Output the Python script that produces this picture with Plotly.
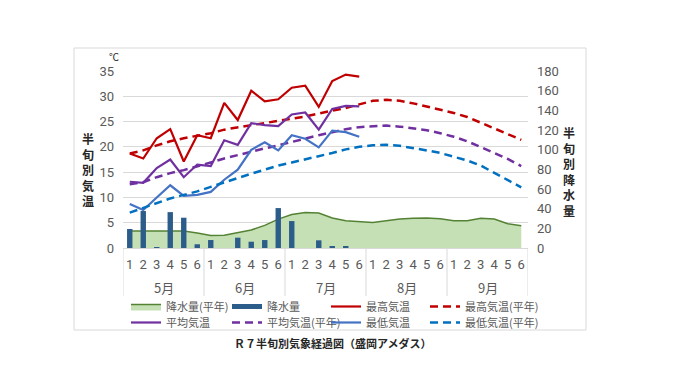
import plotly.graph_objects as go

months = ["5月", "6月", "7月", "8月", "9月"]
halves = ["1", "2", "3", "4", "5", "6"]

# observed (R7), 18 half-month periods (May 1 - Jul 6)
precip = [19.3, 37.6, 0.5, 36.5, 30.8, 3.8, 8.1, 0.0, 10.5, 6.4, 8.1, 40.6, 27.4, 0.0, 7.8, 2.0, 1.5, 0.0]
max_t = [18.7, 17.7, 21.7, 23.5, 17.1, 22.3, 21.7, 28.7, 25.3, 31.1, 29.0, 29.4, 31.7, 32.1, 27.9, 33.0, 34.3, 33.9]
mean_t = [13.1, 12.9, 15.8, 17.5, 14.0, 16.5, 16.2, 21.3, 20.4, 24.7, 24.3, 24.1, 26.4, 26.8, 23.4, 27.5, 28.1, 28.0]
min_t = [8.7, 7.5, 10.0, 12.4, 10.3, 10.5, 11.1, 13.5, 15.5, 19.4, 20.9, 19.3, 22.3, 21.6, 19.9, 23.2, 22.9, 22.0]

# normals (平年), 30 periods
precip_norm = [17.4, 17.4, 17.4, 17.4, 17.4, 15.2, 12.6, 13.0, 15.5, 18.3, 23.0, 29.4, 34.0, 36.0, 35.5, 30.5,
               27.7, 27.0, 26.0, 27.7, 29.5, 30.3, 30.5, 29.7, 27.7, 27.7, 30.3, 29.5, 24.7, 22.7]
max_norm = [18.7, 19.3, 20.3, 21.1, 21.7, 22.2, 22.7, 23.4, 23.9, 24.3, 24.7, 25.1, 25.5, 26.0, 26.6, 27.1,
            27.7, 28.4, 29.1, 29.3, 29.1, 28.6, 28.0, 27.4, 26.7, 25.9, 24.8, 23.7, 22.6, 21.4]
mean_norm = [12.6, 13.0, 14.0, 14.8, 15.4, 16.1, 16.9, 17.7, 18.4, 19.1, 19.7, 20.3, 21.0, 21.6, 22.3, 22.9,
             23.5, 23.9, 24.1, 24.2, 24.0, 23.7, 23.3, 22.7, 22.0, 21.1, 20.0, 18.8, 17.6, 16.2]
min_norm = [7.0, 7.9, 8.9, 9.8, 10.5, 11.2, 12.1, 13.0, 13.9, 14.7, 15.5, 16.3, 16.9, 17.5, 18.1, 18.8,
            19.5, 20.0, 20.3, 20.4, 20.2, 19.8, 19.3, 18.8, 18.1, 17.3, 16.3, 14.9, 13.4, 12.0]

tick_text = [h for _ in months for h in halves]
x_all = list(range(len(tick_text)))
x_obs = x_all[:len(max_t)]
n_half = len(halves)

JP = "Noto Sans CJK JP"
NUM = "Liberation Sans Narrow, Roboto, Noto Sans CJK JP"
GRAY = "#595959"
DARK = "#262626"

C_RED = "#C00000"
C_PUR = "#7030A0"
C_BLU = "#4472C4"
C_BLU2 = "#0070C0"
C_BAR = "#2B5C8A"
C_GF = "#C5E0B4"
C_GL = "#548235"
C_AX = "#D9D9D9"

# plot area geometry (pixels)
L, R, T, B = 123, 528, 71, 248
W, H = R - L, B - T


def xp(px):
    return (px - L) / W


def yp(py):
    return (B - py) / H


# legend slots: (left px, centre-y px), 2 rows x 4 columns
COLS = [126, 227, 326, 425]
ROWS = [306.5, 322.5]
legend_ids = ["legend"] + ["legend%d" % i for i in range(2, 9)]

fig = go.Figure()

fig.add_trace(go.Scatter(x=x_all, y=precip_norm, name="降水量(平年)", mode="lines",
                         fill="tozeroy", fillcolor=C_GF, line=dict(color=C_GL, width=1.5),
                         yaxis="y", legend=legend_ids[0], hoverinfo="skip"))
fig.add_trace(go.Bar(x=x_obs, y=precip, name="降水量", marker=dict(color=C_BAR, line=dict(width=0)),
                     yaxis="y2", showlegend=False))
fig.add_trace(go.Scatter(x=[None], y=[None], name="降水量", mode="lines",
                         line=dict(color=C_BAR, width=5), yaxis="y2", legend=legend_ids[1]))
fig.add_trace(go.Scatter(x=x_obs, y=max_t, name="最高気温", mode="lines",
                         line=dict(color=C_RED, width=2.2), yaxis="y3", legend=legend_ids[2]))
fig.add_trace(go.Scatter(x=x_all, y=max_norm, name="最高気温(平年)", mode="lines",
                         line=dict(color=C_RED, width=2.5, dash="8px,5px"), yaxis="y3", legend=legend_ids[3]))
fig.add_trace(go.Scatter(x=x_obs, y=mean_t, name="平均気温", mode="lines",
                         line=dict(color=C_PUR, width=2.2), yaxis="y3", legend=legend_ids[4]))
fig.add_trace(go.Scatter(x=x_all, y=mean_norm, name="平均気温(平年)", mode="lines",
                         line=dict(color=C_PUR, width=2.5, dash="8px,5px"), yaxis="y3", legend=legend_ids[5]))
fig.add_trace(go.Scatter(x=x_obs, y=min_t, name="最低気温", mode="lines",
                         line=dict(color=C_BLU, width=2.2), yaxis="y3", legend=legend_ids[6]))
fig.add_trace(go.Scatter(x=x_all, y=min_norm, name="最低気温(平年)", mode="lines",
                         line=dict(color=C_BLU2, width=2.5, dash="8px,5px"), yaxis="y3", legend=legend_ids[7]))

legends = {}
for i, lid in enumerate(legend_ids):
    legends[lid] = dict(orientation="h", xanchor="left", yanchor="middle",
                        x=xp(COLS[i % 4]), y=yp(ROWS[i // 4]),
                        font=dict(family=JP, size=11, color=GRAY),
                        bgcolor="rgba(0,0,0,0)", itemwidth=30)

fig.update_layout(
    width=690, height=388,
    margin=dict(l=L, r=690 - R, t=T, b=388 - B, autoexpand=False),
    paper_bgcolor="white", plot_bgcolor="white",
    bargap=0.6,
    font=dict(family=JP, color=GRAY),
    xaxis=dict(range=[-0.5, len(x_all) - 0.5], tickmode="array", tickvals=x_all, ticktext=tick_text,
               showgrid=False, zeroline=False, showline=True, linecolor=C_AX, linewidth=1, ticks="",
               tickfont=dict(family=NUM, size=13, color=GRAY), ticklabelstandoff=4),
    yaxis=dict(side="right", range=[0, 180], dtick=20, showgrid=False, zeroline=False,
               ticks="", tickfont=dict(family=NUM, size=13, color=GRAY), ticklabelstandoff=8),
    yaxis2=dict(overlaying="y", side="right", range=[0, 180], visible=False, showgrid=False),
    yaxis3=dict(overlaying="y", side="left", range=[0, 35], dtick=5, showgrid=True,
                gridcolor=C_AX, gridwidth=1, zeroline=False, ticks="",
                tickfont=dict(family=NUM, size=13, color=GRAY), ticklabelstandoff=8),
    showlegend=True,
    **legends,
)

# chart border
fig.add_shape(type="rect", xref="paper", yref="paper",
              x0=xp(74), x1=xp(586), y0=yp(330), y1=yp(48),
              line=dict(color=C_AX, width=1), fillcolor="rgba(0,0,0,0)", layer="below")

# month group dividers and month labels
for k in range(len(months) + 1):
    fig.add_shape(type="line", xref="x", yref="paper",
                  x0=k * n_half - 0.5, x1=k * n_half - 0.5, y0=yp(296), y1=0,
                  line=dict(color=C_AX, width=1))
for k, m in enumerate(months):
    fig.add_annotation(xref="x", yref="paper", x=k * n_half + (n_half - 1) / 2, y=yp(287),
                       text=m, showarrow=False, xanchor="center", yanchor="middle",
                       font=dict(family=JP, size=13, color=GRAY))

ann = [
    dict(text="℃", x=xp(114), y=yp(56), font=dict(family=JP, size=10, color=DARK)),
    dict(text="<b>半<br>旬<br>別<br>気<br>温</b>", x=xp(87.5), y=yp(169.5),
         font=dict(family=JP, size=12, color=DARK)),
    dict(text="<b>半<br>旬<br>別<br>降<br>水<br>量</b>", x=xp(569), y=yp(171.7),
         font=dict(family=JP, size=12, color=DARK)),
    dict(text="<b>Ｒ７半旬別気象経過図（盛岡アメダス）</b>", x=xp(332), y=yp(343),
         font=dict(family=JP, size=11, color=DARK)),
]
for a in ann:
    fig.add_annotation(xref="paper", yref="paper", xanchor="center", yanchor="middle",
                       showarrow=False, **a)

fig.write_html("out.html", config={"displayModeBar": False},
               post_script="document.body.style.margin='0';")
